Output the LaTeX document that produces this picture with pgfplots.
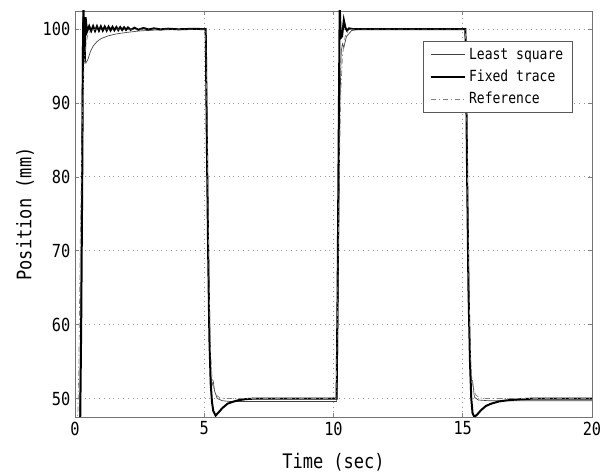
\documentclass[border=0pt]{standalone}
\usepackage{fontspec}
\usepackage{pgfplots}
\pgfplotsset{compat=1.18}
\newfontfamily\gothic[FakeStretch=0.85]{DejaVu Sans Mono}
\begin{document}
\begin{tikzpicture}
\path[use as bounding box] (-56.25pt,-42pt) rectangle (399.75pt,312.75pt);
\begin{axis}[
  scale only axis,
  width=387.75pt, height=304.5pt,
  xmin=0, xmax=20, ymin=47.5, ymax=102.45,
  xtick={0,5,10,15,20}, ytick={50,60,70,80,90,100},
  tick align=inside, major tick length=3pt,
  tick style={black!50, line width=0.5pt},
  axis line style={black!55, line width=0.7pt},
  grid=major,
  major grid style={black!40, line width=0.6pt, dash pattern=on 0.6pt off 3pt},
  /pgf/number format/assume math mode=true,
  tick label style={font=\gothic\fontsize{13.5}{13.5}\selectfont},
  xlabel={Time (sec)}, ylabel={Position (mm)},
  label style={font=\gothic\fontsize{15}{15}\selectfont},
  xlabel style={at={(axis description cs:0.5,-0.111)}, anchor=center},
  ylabel style={at={(axis description cs:-0.0967,0.5)}, anchor=center},
  legend cell align=left,
  legend image code/.code={\draw[#1] (0cm,0cm) -- (0.92cm,0cm);},
  legend style={draw=black!65, fill=white, font=\gothic\fontsize{11.5}{12.5}\selectfont,
    at={(0.963,0.926)}, anchor=north east, row sep=2.5pt, inner xsep=5pt, inner ysep=3pt},
]
% Least square (thin)
\addplot[black!75, line width=0.5pt] coordinates {
(0,45) (0.18,47) (0.22,60) (0.26,85) (0.29,101) (0.32,102) (0.36,97) (0.42,95.4)
(0.5,95.9) (0.6,97.0) (0.7,97.7) (0.85,98.3) (1.0,98.7) (1.3,99.1) (1.6,99.35)
(2.0,99.55) (2.5,99.75) (3.0,99.85) (4.0,99.95) (5.05,100)
(5.06,99) (5.1,90) (5.15,75) (5.2,60) (5.25,53) (5.3,51.8) (5.35,52.3) (5.4,51)
(5.5,50) (5.7,49.7) (6,49.6) (10.12,49.6)
(10.15,52) (10.2,70) (10.25,90) (10.3,97) (10.35,98) (10.4,97.5) (10.5,99) (10.7,99.8) (11,100) (15.1,100)
(15.12,95) (15.2,75) (15.28,55) (15.33,52.5) (15.38,52.4) (15.45,50.2) (15.6,49.8) (16,49.7)
(20,49.7)
};
\addlegendentry{Least square\hspace{28pt}}
% Fixed trace (thick)
\addplot[black, line width=1.5pt] coordinates {
(0,45) (0.2,46.5) (0.24,60) (0.28,80) (0.31,98) (0.33,104) (0.36,95.5) (0.38,96)
(0.41,101.6) (0.44,100.5) (0.47,99.7)
(0.55,100.4) (0.625,99.75) (0.7,100.4) (0.775,99.75) (0.85,100.38) (0.925,99.78)
(1.0,100.36) (1.075,99.8) (1.15,100.34) (1.225,99.8) (1.3,100.32) (1.375,99.82)
(1.45,100.3) (1.525,99.84) (1.6,100.28) (1.675,99.86) (1.75,100.26) (1.825,99.88)
(1.9,100.24) (1.975,99.9) (2.05,100.22) (2.15,99.9) (2.3,100.18) (2.45,99.92)
(2.65,100.14) (2.85,99.95) (3.05,100.1) (3.3,99.96) (3.6,100.05) (4.0,99.97)
(4.5,100.03) (5.05,100)
(5.06,99) (5.1,85) (5.15,70) (5.2,58) (5.25,52) (5.3,49.5) (5.35,48.3) (5.44,47.7)
(5.55,48.1) (5.7,48.7) (5.9,49.3) (6.1,49.55) (6.3,49.75) (6.6,49.92) (7,50) (10.12,50)
(10.16,65) (10.2,85) (10.24,103.5) (10.28,98.8) (10.33,99) (10.4,101.2) (10.46,100.2)
(10.52,99.8) (10.6,100.1) (10.75,100) (15.1,100)
(15.12,97) (15.17,80) (15.22,65) (15.28,55) (15.33,50) (15.38,48) (15.45,47.5)
(15.55,47.8) (15.7,48.4) (15.9,49) (16.1,49.3) (16.4,49.6) (16.7,49.75) (17.2,49.9)
(17.8,50) (20,50)
};
\addlegendentry{Fixed trace}
% Reference (dash-dot)
\addplot[black!50, line width=0.5pt, dash pattern=on 4pt off 2pt on 1pt off 2pt] coordinates {
(0,45) (0.1,46) (0.15,55) (0.2,70) (0.25,82) (0.3,90) (0.35,95) (0.4,97.5) (0.5,99.3)
(0.6,99.8) (0.8,100) (5.05,100)
(5.1,90) (5.15,75) (5.2,63) (5.25,56) (5.3,53) (5.35,51.5) (5.45,50.5) (5.6,50.1) (5.8,50) (10.1,50)
(10.15,60) (10.2,75) (10.25,86) (10.3,93) (10.35,96.5) (10.45,99) (10.6,99.9) (10.8,100) (15.1,100)
(15.15,90) (15.2,75) (15.25,63) (15.3,56) (15.35,53) (15.4,51.5) (15.5,50.5) (15.65,50.1) (15.85,50) (20,50)
};
\addlegendentry{Reference}
\end{axis}
\end{tikzpicture}
\end{document}
